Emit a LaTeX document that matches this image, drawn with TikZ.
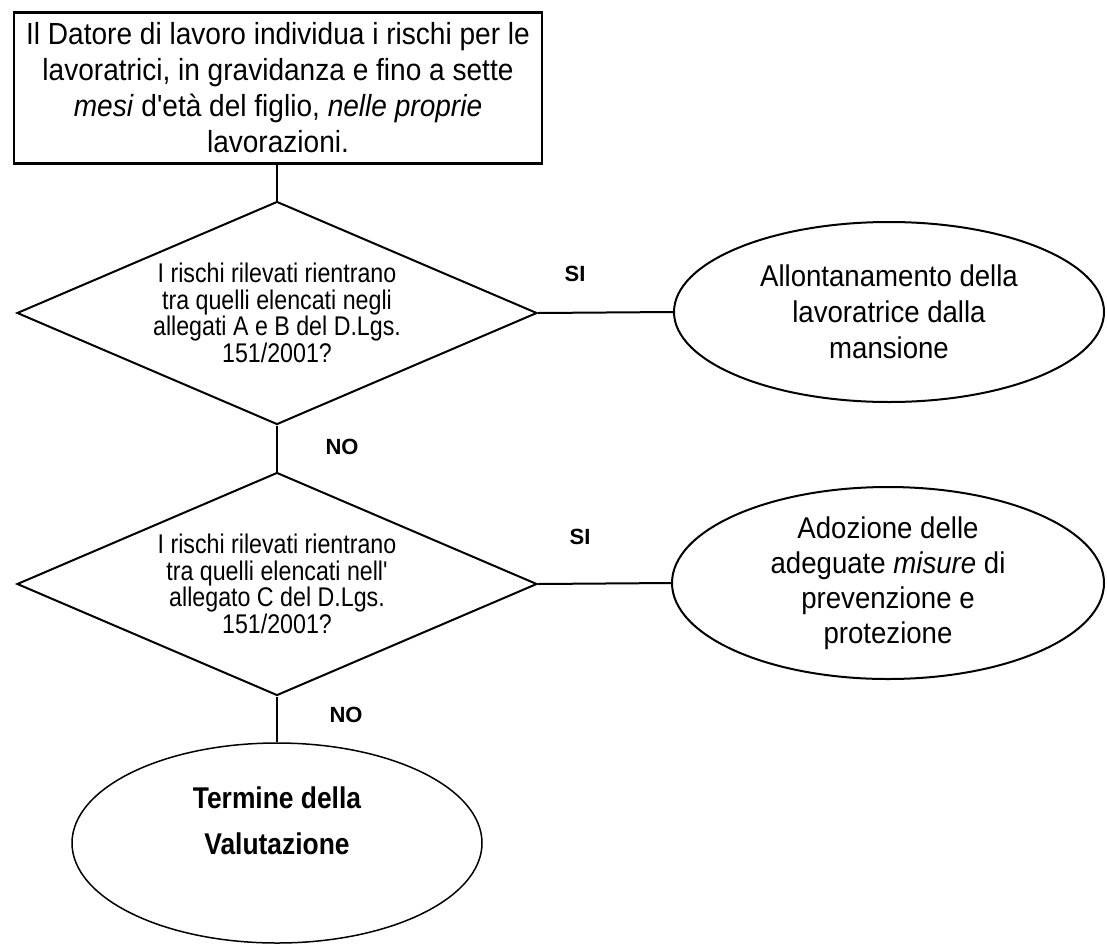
\documentclass[tikz,border=0pt]{standalone}
\usepackage{fontspec}
\setmainfont{Liberation Sans}
\newfontfamily\dinfont[FakeStretch=0.92]{Liberation Sans}
\newfontfamily\termfont[FakeStretch=0.88]{Liberation Sans}
\newfontfamily\qfont[FakeStretch=0.86]{Liberation Sans}
\usetikzlibrary{shapes.geometric}
\begin{document}
\begin{tikzpicture}[x=1pt,y=-1pt,
  conn/.style={line width=2pt},
  startbox/.style={draw, line width=2.5pt, minimum width=528pt, minimum height=151pt,
    inner sep=0pt, align=center, font=\dinfont\fontsize{30.5}{36}\selectfont},
  decision/.style={draw, diamond, line width=2pt, aspect=2.32, minimum width=520pt,
    minimum height=223pt, inner sep=0pt, align=center,
    font=\qfont\fontsize{27}{26.5}\selectfont},
  outcome/.style={draw, ellipse, line width=2pt, inner sep=0pt, align=center,
    font=\dinfont\fontsize{30}{36}\selectfont},
  endnode/.style={draw, ellipse, line width=1.5pt, inner sep=0pt,
    minimum width=410pt, minimum height=200pt},
  endtext/.style={align=center, font=\termfont\bfseries\fontsize{30}{46}\selectfont},
  lbl/.style={font=\bfseries\fontsize{22}{22}\selectfont}
]
\useasboundingbox[fill=white] (0,0) rectangle (1107,945);

\node[startbox] (start) at (278,88)
  {Il Datore di lavoro individua i rischi per le\\
   lavoratrici, in gravidanza e fino a sette\\
   \textit{mesi} d'età del figlio, \textit{nelle proprie}\\
   lavorazioni.};

\node[decision] (d1) at (277,313)
  {I rischi rilevati rientrano\\
   tra quelli elencati negli\\
   allegati A e B del D.Lgs.\\
   151/2001?};

\node[decision] (d2) at (277,584)
  {I rischi rilevati rientrano\\
   tra quelli elencati nell'\\
   allegato C del D.Lgs.\\
   151/2001?};

\node[outcome, minimum width=430pt, minimum height=180pt] (e1) at (889,312)
  {Allontanamento della\\ lavoratrice dalla\\ mansione};

\node[outcome, minimum width=432pt, minimum height=192pt,
      font=\dinfont\fontsize{30}{35}\selectfont] (e2) at (888,583)
  {Adozione delle\\ adeguate \textit{misure} di\\ prevenzione e\\ protezione};

\node[endnode] (term) at (277,843) {};
\node[endtext] (termtext) at (277,821) {Termine della\\ Valutazione};

\node[lbl] (si1) at (575,274) {SI};
\node[lbl] (si2) at (580,537) {SI};
\node[lbl] (no1) at (342,447) {NO};
\node[lbl] (no2) at (346,715) {NO};

\draw[conn] (d1.north |- start.south) -- (d1.north);
\draw[conn] (d1.south) -- (d2.north);
\draw[conn] (d2.south) -- (term.north);
\draw[conn] (d1.east) -- (e1.west);
\draw[conn] (d2.east) -- (e2.west);
\end{tikzpicture}
\end{document}
